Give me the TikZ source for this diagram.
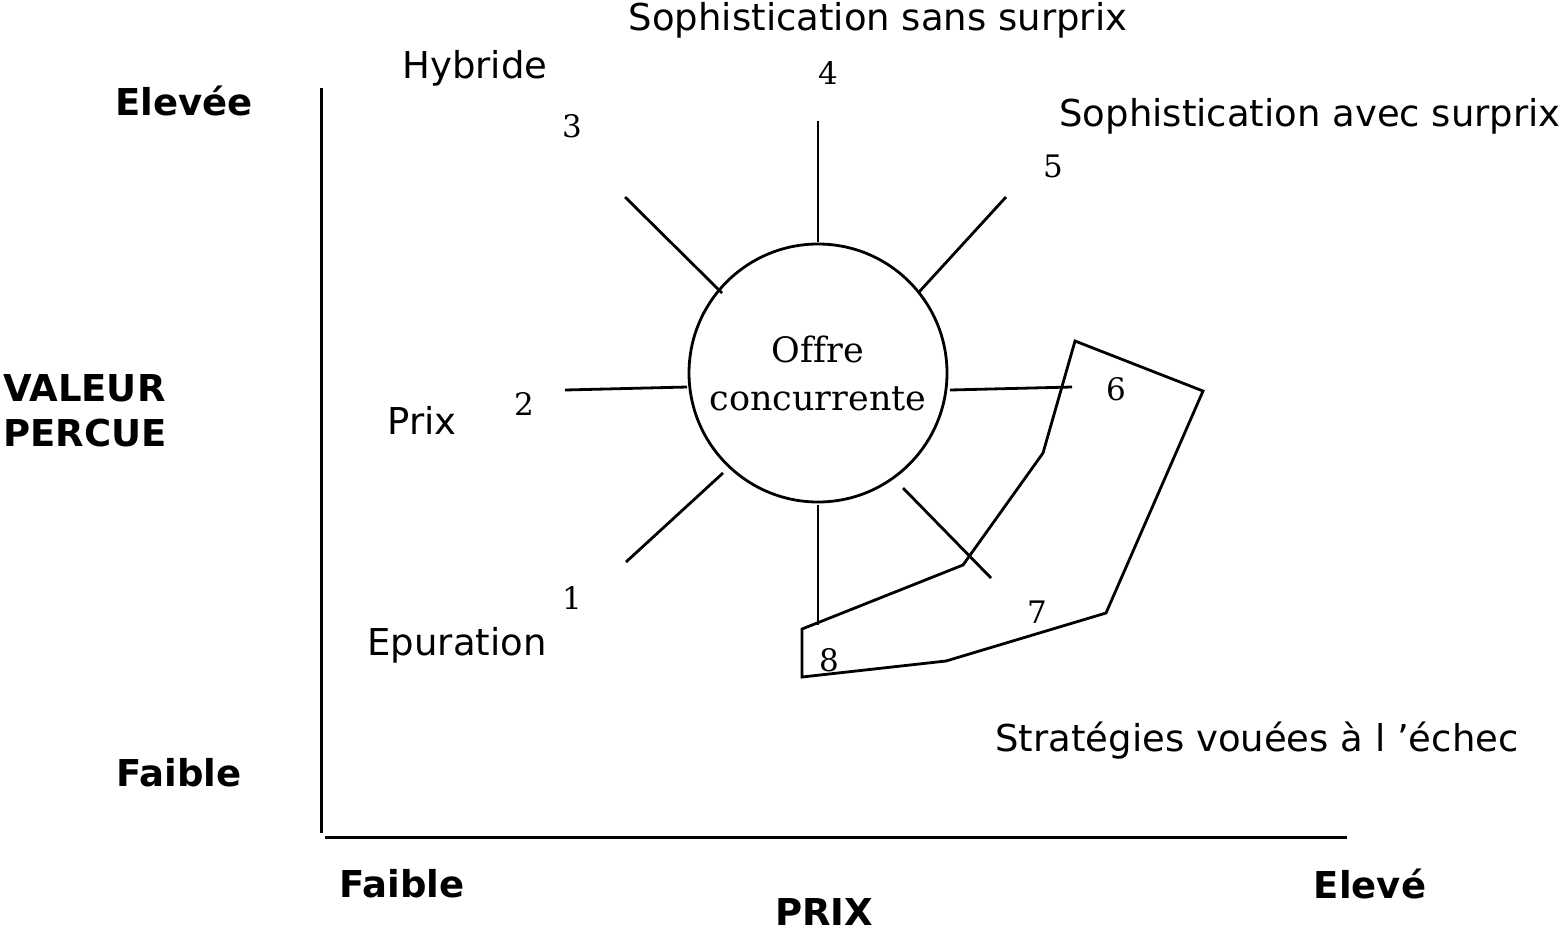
\documentclass[tikz,border=0pt]{standalone}
\usepackage{fontspec}
\newfontfamily\vf{DejaVu Sans}
\newfontfamily\serifnum{DejaVu Serif}[Ligatures=NoCommon]
\begin{document}
\begin{tikzpicture}[x=0.5pt,y=-0.5pt,
  lbl/.style={inner sep=0pt,font=\vf\fontsize{18.5}{22.5}\selectfont},
  blbl/.style={inner sep=0pt,font=\vf\bfseries\fontsize{18.5}{22.5}\selectfont},
  num/.style={inner sep=0pt,font=\serifnum\fontsize{15.5}{18}\selectfont},
  ray/.style={line width=1.4pt},
  axis/.style={line width=1.5pt},
  poly/.style={line width=1.4pt,line join=miter}]
\useasboundingbox (0,0) rectangle (1566,932);
% axes
\coordinate (ytop) at (321,88);
\coordinate (ybot) at (321,833);
\coordinate (xl) at (325,837);
\coordinate (xr) at (1347,837);
\draw[axis] (ytop) -- (ybot);
\draw[axis] (xl) -- (xr);
% central circle
\node[draw,circle,line width=1.4pt,minimum size=129pt,inner sep=0pt,align=center,
  font=\serifnum\fontsize{17.5}{24}\selectfont] (offre) at (818,373) {Offre\\concurrente};
% ray end points
\coordinate (r1a) at (723,473); \coordinate (r1b) at (626,562);
\coordinate (r2a) at (687,387); \coordinate (r2b) at (565,390);
\coordinate (r3a) at (722,293); \coordinate (r3b) at (625,197);
\coordinate (r4a) at (818,242); \coordinate (r4b) at (818,121);
\coordinate (r5a) at (919,292); \coordinate (r5b) at (1006,197);
\coordinate (r6a) at (950,390); \coordinate (r6b) at (1072,387);
\coordinate (r7a) at (903,488); \coordinate (r7b) at (991,578);
\coordinate (r8a) at (818,505); \coordinate (r8b) at (818,625);
\foreach \i in {1,...,8} {\draw[ray] (r\i a) -- (r\i b);}
% polygon of failing strategies
\draw[poly] (1075,341) -- (1203,391) -- (1106,613) -- (946,661) -- (802,677)
  -- (802,629) -- (963,565) -- (1043,453) -- cycle;
% numbers
\node[num] (n1) at (572,598) {1};
\node[num] (n2) at (524,404) {2};
\node[num] (n3) at (572,126) {3};
\node[num] (n4) at (828,73) {4};
\node[num] (n5) at (1053,166) {5};
\node[num] (n6) at (1116,389) {6};
\node[num] (n7) at (1037,612) {7};
\node[num] (n8) at (829,660) {8};
% labels
\node[lbl] (sss) at (878,20) {Sophistication sans surprix};
\node[lbl] (hyb) at (475,68) {Hybride};
\node[lbl] (sas) at (1310,116) {Sophistication avec surprix};
\node[lbl] (prix) at (422,420) {Prix};
\node[lbl] (epu) at (457,645) {Epuration};
\node[lbl] (strat) at (1257,741) {Stratégies vouées à l ’échec};
% axis labels
\node[blbl] (elevee) at (184,101) {Elevée};
\node[blbl,align=left] (vp) at (85,411) {VALEUR\\PERCUE};
\node[blbl] (faibley) at (179,773) {Faible};
\node[blbl] (faiblex) at (402,884) {Faible};
\node[blbl] (eleve) at (1370,884) {Elevé};
\node[blbl] (prixax) at (824,912) {PRIX};
\end{tikzpicture}
\end{document}
